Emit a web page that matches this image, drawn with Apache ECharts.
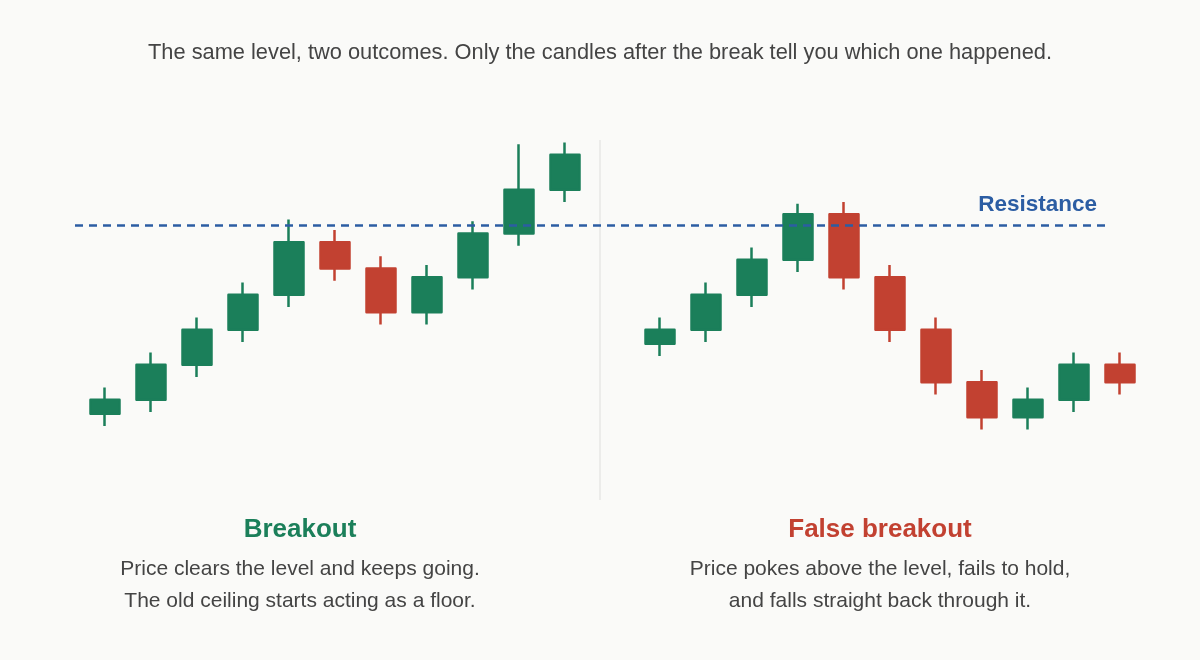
<!DOCTYPE html>
<html>
<head>
<meta charset="utf-8">
<script src="https://cdn.jsdelivr.net/npm/echarts@6/dist/echarts.min.js"></script>
<style>
  html, body { margin: 0; padding: 0; background: #fafaf8; }
  #chart { width: 1200px; height: 660px; }
</style>
</head>
<body>
<div id="chart"></div>
<script>
// candle index labels (axes are hidden)
const sessions = ['1', '2', '3', '4', '5', '6', '7', '8', '9', '10', '11']

// [open, close, low, high]
const breakout = [
  [46, 50, 42.5, 53.5],
  [50, 60, 46.5, 63.5],
  [60, 70, 56.5, 73.5],
  [70, 80, 66.5, 83.5],
  [80, 95, 76.5, 101.5],
  [95, 87.5, 84, 98.5],
  [87.5, 75, 71.5, 91],
  [75, 85, 71.5, 88.5],
  [85, 97.5, 81.5, 101],
  [97.5, 110, 94, 123],
  [110, 120, 106.5, 123.5]
]

const falseBreakout = [
  [66, 70, 62.5, 73.5],
  [70, 80, 66.5, 83.5],
  [80, 90, 76.5, 93.5],
  [90, 103, 86.5, 106],
  [103, 85, 81.5, 106.5],
  [85, 70, 66.5, 88.5],
  [70, 55, 51.5, 73.5],
  [55, 45, 41.5, 58.5],
  [45, 50, 41.5, 53.5],
  [50, 60, 46.5, 63.5],
  [60, 55, 51.5, 63.5]
]

const resistance = 100
const priceMin = 20
const priceMax = 125

const GREEN = '#1b7f5a'
const RED = '#c24131'
const BLUE = '#2c5da3'
const TEXT = '#444444'
const FONT = '"Liberation Sans", Arial, Helvetica, sans-serif'

const gridTop = 137.3
const gridBottom = 155.2

const candleStyle = {
  color: GREEN,
  color0: RED,
  borderColor: GREEN,
  borderColor0: RED,
  borderWidth: 2.5,
  borderJoin: 'round'
}

const hiddenCat = idx => ({
  type: 'category', gridIndex: idx, data: sessions, show: false, boundaryGap: true
})
const hiddenVal = idx => ({
  type: 'value', gridIndex: idx, min: priceMin, max: priceMax, show: false, splitLine: { show: false }
})

const chart = echarts.init(document.getElementById('chart'))

chart.setOption({
  backgroundColor: '#fafaf8',
  animation: false,
  grid: [
    { left: 82, width: 506, top: gridTop, bottom: gridBottom },
    { left: 637, width: 506, top: gridTop, bottom: gridBottom },
    { left: 75, right: 95, top: gridTop, bottom: gridBottom }
  ],
  xAxis: [
    hiddenCat(0),
    hiddenCat(1),
    { type: 'value', gridIndex: 2, min: 0, max: 1, show: false, splitLine: { show: false } }
  ],
  yAxis: [hiddenVal(0), hiddenVal(1), hiddenVal(2)],
  series: [
    {
      name: 'Breakout',
      type: 'candlestick',
      xAxisIndex: 0,
      yAxisIndex: 0,
      barWidth: 29.5,
      silent: true,
      itemStyle: candleStyle,
      data: breakout
    },
    {
      name: 'False breakout',
      type: 'candlestick',
      xAxisIndex: 1,
      yAxisIndex: 1,
      barWidth: 29.5,
      silent: true,
      itemStyle: candleStyle,
      data: falseBreakout
    },
    {
      name: 'Resistance',
      type: 'line',
      xAxisIndex: 2,
      yAxisIndex: 2,
      silent: true,
      showSymbol: false,
      lineStyle: { opacity: 0 },
      data: [[0, resistance], [1, resistance]],
      markLine: {
        silent: true,
        symbol: 'none',
        lineStyle: { color: BLUE, width: 2.5, type: [8, 6] },
        label: {
          position: 'insideEndTop',
          formatter: 'Resistance',
          color: BLUE,
          fontFamily: FONT,
          fontWeight: 'bold',
          fontSize: 22.5,
          distance: [8, 9]
        },
        data: [{ yAxis: resistance }]
      }
    }
  ],
  graphic: [
    {
      type: 'line',
      silent: true,
      shape: { x1: 600, y1: 140, x2: 600, y2: 500 },
      style: { stroke: '#ececea', lineWidth: 2 }
    },
    {
      type: 'text', x: 600, y: 53,
      style: {
        text: 'The same level, two outcomes. Only the candles after the break tell you which one happened.',
        fill: TEXT, font: '21.8px ' + FONT, textAlign: 'center', textVerticalAlign: 'middle'
      }
    },
    {
      type: 'text', x: 300, y: 530,
      style: {
        text: 'Breakout', fill: GREEN, font: 'bold 26px ' + FONT,
        textAlign: 'center', textVerticalAlign: 'middle'
      }
    },
    {
      type: 'text', x: 300, y: 585,
      style: {
        text: 'Price clears the level and keeps going.\nThe old ceiling starts acting as a floor.',
        fill: TEXT, font: '21px ' + FONT, lineHeight: 32,
        textAlign: 'center', textVerticalAlign: 'middle'
      }
    },
    {
      type: 'text', x: 880, y: 530,
      style: {
        text: 'False breakout', fill: RED, font: 'bold 26px ' + FONT,
        textAlign: 'center', textVerticalAlign: 'middle'
      }
    },
    {
      type: 'text', x: 880, y: 585,
      style: {
        text: 'Price pokes above the level, fails to hold,\nand falls straight back through it.',
        fill: TEXT, font: '21px ' + FONT, lineHeight: 32,
        textAlign: 'center', textVerticalAlign: 'middle'
      }
    }
  ]
})
</script>
</body>
</html>
